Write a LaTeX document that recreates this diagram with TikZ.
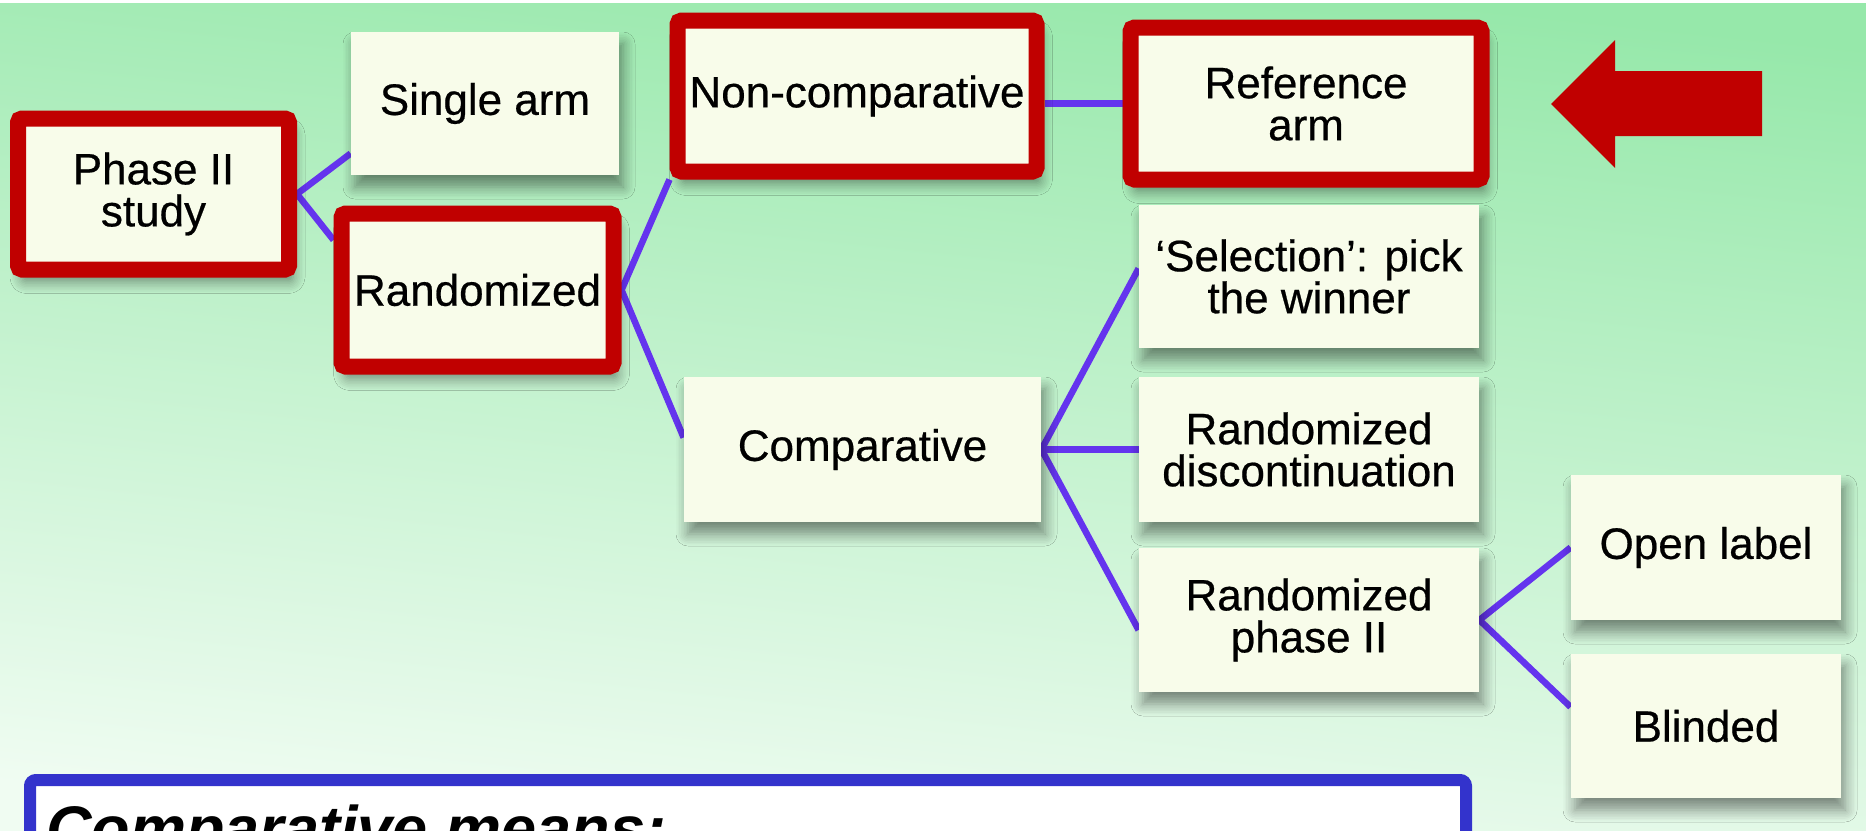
\documentclass[tikz,border=0pt]{standalone}
\usepackage{fontspec}
\setmainfont{Liberation Sans}
\newfontfamily\boxfont[FakeBold=0.5]{Liberation Sans}
\usepackage{tikz}
\usetikzlibrary{positioning, backgrounds, calc, shadows.blur}
\definecolor{bgtop}{RGB}{150,232,170}
\definecolor{bgbottom}{RGB}{240,252,242}
\definecolor{boxfill}{RGB}{248,252,234}
\definecolor{hired}{RGB}{192,0,0}
\definecolor{linkcolor}{RGB}{100,52,238}
\definecolor{noteblue}{RGB}{51,51,204}

\begin{document}
\begin{tikzpicture}[
    x=0.5pt, y=-0.5pt,
    box/.style={fill=boxfill, minimum width=170pt, minimum height=72pt, inner sep=0pt, align=center, font=\boxfont\fontsize{22}{21}\selectfont, blur shadow={shadow xshift=2pt, shadow yshift=-6pt, shadow blur radius=6pt, shadow opacity=45, shadow blur steps=8}},
    hilite/.style={box, draw=hired, line width=8pt, rounded corners=2pt},
    link/.style={linkcolor, line width=3.25pt},
    notebox/.style={draw=noteblue, fill=white, line width=6pt, rounded corners=3pt, minimum width=718pt, minimum height=100pt, inner sep=0pt},
    notetext/.style={font=\fontsize{31.5}{36}\selectfont\bfseries\itshape, inner sep=0pt}
]
    \useasboundingbox (0,0) rectangle (1866,830);
    \clip (0,0) rectangle (1866,830);

    % Level 1
    \node[hilite, minimum width=135.5pt, minimum height=75.5pt] (phase) at (153.5,194) {Phase II\\study};

    % Level 2
    \node[box, minimum width=134pt, minimum height=71.5pt] (single) at (485,103.5) {Single arm};
    \node[hilite, minimum width=136pt, minimum height=76.5pt] (rand) at (477.5,290) {Randomized};

    % Level 3
    \node[hilite, minimum width=179.5pt, minimum height=75.5pt] (noncomp) at (857,96) {Non-comparative};
    \node[box, minimum width=178.5pt, minimum height=72.5pt] (comp) at (862.5,449.5) {Comparative};

    % Level 4
    \node[hilite, minimum width=175.5pt, minimum height=76pt] (refarm) at (1306,103.5) {Reference\\arm};
    \node[box, minimum height=71.5pt] (select) at (1309,276.5) {‘Selection’: pick\\the winner};
    \node[box, minimum height=72.5pt] (discont) at (1309,449.5) {Randomized\\discontinuation};
    \node[box] (rphase) at (1309,620) {Randomized\\phase II};

    % Level 5
    \node[box, minimum width=135pt, minimum height=72.5pt] (open) at (1706,547.5) {Open label};
    \node[box, minimum width=135pt] (blind) at (1706,726) {Blinded};

    % Pointer
    \fill[hired] (1551,104) -- (1615,40) -- (1615,71) -- (1762,71) -- (1762,136) -- (1615,136) -- (1615,168) -- cycle;

    % Note
    \node[notebox, anchor=north west] (note) at (24,774) {};
    \node[notetext, anchor=base west] (notehead) at (46,850) {Comparative means:};

    \begin{scope}[on background layer]
        \shade[top color=bgtop, middle color=bgtop!85!bgbottom, bottom color=bgbottom, shading angle=-6] (0,0) rectangle (1866,830);
        \fill[white] (0,0) rectangle (1866,3);

        % Tree links
        \draw[link] (phase.east) -- ($(single.west)+(0,50)$);
        \draw[link] (phase.east) -- ($(rand.west)+(0,-50)$);
        \draw[link] (rand.east) -- (noncomp.south west);
        \draw[link] (rand.east) -- ($(comp.west)+(0,-12)$);
        \draw[link] (noncomp.east |- refarm.west) -- (refarm.west);
        \draw[link] (comp.east) -- ($(select.west)+(0,-8)$);
        \draw[link] (comp.east) -- (discont.west);
        \draw[link] (comp.east) -- ($(rphase.west)+(0,10)$);
        \draw[link] (rphase.east) -- (open.west);
        \draw[link] (rphase.east) -- ($(blind.west)+(0,-19)$);
    \end{scope}
\end{tikzpicture}
\end{document}
